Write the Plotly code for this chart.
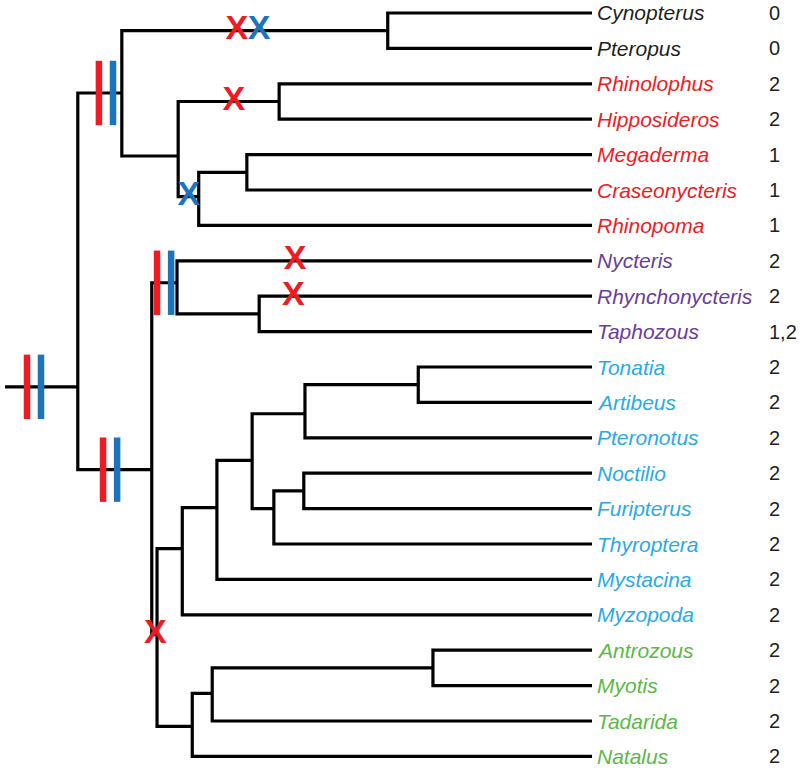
import plotly.graph_objects as go

# ---------------- data ----------------
leaves = ["Cynopterus", "Pteropus", "Rhinolophus", "Hipposideros", "Megaderma",
          "Craseonycteris", "Rhinopoma", "Nycteris", "Rhynchonycteris", "Taphozous",
          "Tonatia", "Artibeus", "Pteronotus", "Noctilio", "Furipterus", "Thyroptera",
          "Mystacina", "Myzopoda", "Antrozous", "Myotis", "Tadarida", "Natalus"]
leaf_values = ["0", "0", "2", "2", "1", "1", "1", "2", "2", "1,2", "2", "2", "2",
               "2", "2", "2", "2", "2", "2", "2", "2", "2"]
leaf_groups = ["Pteropodidae"] * 2 + ["Rhinolophoidea"] * 5 + ["Emballonuroidea"] * 3 + \
              ["Noctilionoidea"] * 8 + ["Vespertilionoidea"] * 4
group_colors = {"Pteropodidae": "#231F20", "Rhinolophoidea": "#ED1C24",
                "Emballonuroidea": "#6A3D9A", "Noctilionoidea": "#29ABE2",
                "Vespertilionoidea": "#5DB847"}

# internal nodes: name, children, depth (0 = root stub, 100 = tips), row (leaf index units)
node_names = ["R", "N1", "Ptero", "Rhinoloph", "RhHi", "MCR", "MC", "A", "Emb", "RT",
              "B", "C", "D", "E", "F", "G", "H", "I", "J", "K", "L"]
node_children = [["N1", "A"], ["Ptero", "Rhinoloph"], ["Cynopterus", "Pteropus"],
                 ["RhHi", "MCR"], ["Rhinolophus", "Hipposideros"], ["MC", "Rhinopoma"],
                 ["Megaderma", "Craseonycteris"], ["Emb", "B"], ["Nycteris", "RT"],
                 ["Rhynchonycteris", "Taphozous"], ["C", "J"], ["D", "Myzopoda"],
                 ["E", "Mystacina"], ["F", "H"], ["G", "Pteronotus"], ["Tonatia", "Artibeus"],
                 ["I", "Thyroptera"], ["Noctilio", "Furipterus"], ["K", "Natalus"],
                 ["L", "Tadarida"], ["Antrozous", "Myotis"]]
node_depth = [12.4, 19.9, 65.2, 29.5, 46.7, 33.0, 41.2, 25.0, 29.3, 43.3,
              25.9, 30.2, 36.1, 42.1, 51.1, 70.4, 45.8, 50.9, 31.9, 35.3, 72.9]
node_row = [10.56, 2.26, 0.5, 4.04, 2.5, 5.19, 4.5, 12.9, 7.62, 8.5,
            17.56, 15.13, 13.97, 12.64, 11.32, 10.5, 14.0, 13.5, 20.15, 19.22, 18.5]
root_stub_depth = 0.0
tip_depth = 100.0

# character-change markers
bar_branch = ["R", "R", "N1", "N1", "A", "A", "Emb", "Emb"]
bar_depth = [3.75, 6.13, 16.0, 18.4, 16.7, 19.1, 25.9, 28.3]
bar_kind = ["red", "blue", "red", "blue", "red", "blue", "red", "blue"]

x_branch = ["Ptero", "Ptero", "RhHi", "MCR", "Nycteris", "Rhynchonycteris", "B"]
x_depth = [39.5, 43.3, 39.0, 31.3, 49.4, 49.1, 25.6]
x_kind = ["red", "blue", "red", "blue", "red", "red", "red"]

mark_colors = {"red": "#ED1C24", "blue": "#1C75BC"}

# ---------------- layout computation ----------------
pos = {}
for i, name in enumerate(leaves):
    pos[name] = (tip_depth, i)
for name, d, r in zip(node_names, node_depth, node_row):
    pos[name] = (d, r)

lx, ly = [], []
# root stub
lx += [root_stub_depth, pos["R"][0], None]
ly += [pos["R"][1], pos["R"][1], None]
for name, kids in zip(node_names, node_children):
    nx = pos[name][0]
    ks = sorted(kids, key=lambda k: pos[k][1])
    first, last = ks[0], ks[-1]
    lx += [pos[first][0], nx, nx, pos[last][0], None]
    ly += [pos[first][1], pos[first][1], pos[last][1], pos[last][1], None]
    for k in ks[1:-1]:
        lx += [nx, pos[k][0], None]
        ly += [pos[k][1], pos[k][1], None]

fig = go.Figure()
fig.add_trace(go.Scatter(x=lx, y=ly, mode="lines",
                         line=dict(color="#000000", width=3.2),
                         hoverinfo="skip", showlegend=False))

# bars
for kind in ["red", "blue"]:
    bx = [d for d, k in zip(bar_depth, bar_kind) if k == kind]
    by = [pos[b][1] for b, k in zip(bar_branch, bar_kind) if k == kind]
    fig.add_trace(go.Scatter(x=bx, y=by, mode="markers",
                             marker=dict(symbol="line-ns", size=46,
                                         line=dict(color=mark_colors[kind], width=6.5)),
                             hoverinfo="skip", showlegend=False))

# X marks
for kind in ["red", "blue"]:
    xx = [d for d, k in zip(x_depth, x_kind) if k == kind]
    xy = [pos[b][1] for b, k in zip(x_branch, x_kind) if k == kind]
    fig.add_trace(go.Scatter(x=xx, y=xy, mode="text", text=["X"] * len(xx),
                             textposition="middle center",
                             textfont=dict(family="Liberation Sans, Arial", size=34,
                                           color=mark_colors[kind], weight="bold"),
                             hoverinfo="skip", showlegend=False))

# labels
annotations = []
for i, (name, val, grp) in enumerate(zip(leaves, leaf_values, leaf_groups)):
    annotations.append(dict(x=tip_depth, y=i, xref="x", yref="y", text=name,
                            showarrow=False, xanchor="left", yanchor="middle", xshift=3,
                            font=dict(family="Liberation Sans, Arial", size=21,
                                      color=group_colors[grp], style="italic")))
    annotations.append(dict(x=0.959, y=i, xref="paper", yref="y", text=val,
                            showarrow=False, xanchor="left", yanchor="middle",
                            font=dict(family="Liberation Sans, Arial", size=20,
                                      color="#231F20")))

fig.update_layout(
    width=800, height=770,
    margin=dict(l=0, r=0, t=0, b=0),
    paper_bgcolor="white", plot_bgcolor="white",
    xaxis=dict(range=[-0.852, 135.43], visible=False, fixedrange=True),
    yaxis=dict(range=[21.384, -0.367], visible=False, fixedrange=True),
    annotations=annotations,
    showlegend=False,
    hovermode=False,
)

fig.write_html("out.html",
               config={"displayModeBar": False, "staticPlot": True},
               post_script="document.body.style.margin='0';document.body.style.overflow='hidden';")
